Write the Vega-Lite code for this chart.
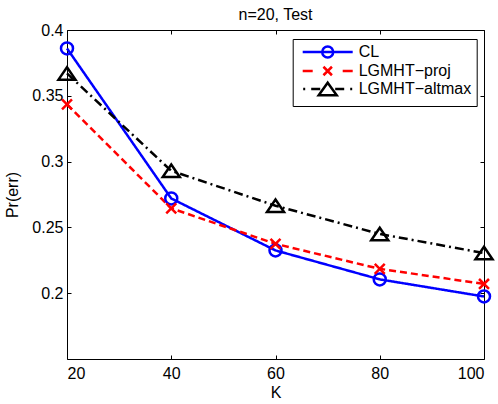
{
  "$schema": "https://vega.github.io/schema/vega-lite/v6.json",
  "width": 417,
  "height": 329,
  "autosize": "none",
  "padding": {"left": 67, "top": 30, "right": 14, "bottom": 45},
  "background": "white",
  "title": {"text": "n=20, Test", "fontSize": 16, "fontWeight": "normal", "font": "Liberation Sans", "color": "black", "offset": -1},
  "data": {"values": [
    {"K": 20, "err": 0.386, "method": "CL"},
    {"K": 40, "err": 0.272, "method": "CL"},
    {"K": 60, "err": 0.2325, "method": "CL"},
    {"K": 80, "err": 0.2105, "method": "CL"},
    {"K": 100, "err": 0.1975, "method": "CL"},
    {"K": 20, "err": 0.3435, "method": "LGMHT−proj"},
    {"K": 40, "err": 0.2645, "method": "LGMHT−proj"},
    {"K": 60, "err": 0.2375, "method": "LGMHT−proj"},
    {"K": 80, "err": 0.2185, "method": "LGMHT−proj"},
    {"K": 100, "err": 0.207, "method": "LGMHT−proj"},
    {"K": 20, "err": 0.367, "method": "LGMHT−altmax"},
    {"K": 40, "err": 0.293, "method": "LGMHT−altmax"},
    {"K": 60, "err": 0.2665, "method": "LGMHT−altmax"},
    {"K": 80, "err": 0.245, "method": "LGMHT−altmax"},
    {"K": 100, "err": 0.2305, "method": "LGMHT−altmax"}
  ]},
  "config": {
    "view": {"stroke": "black", "strokeWidth": 1},
    "axis": {"grid": false, "domainColor": "black", "tickColor": "black", "labelColor": "black", "titleColor": "black", "labelFont": "Liberation Sans", "titleFont": "Liberation Sans", "labelFontSize": 16, "titleFontSize": 16, "titleFontWeight": "normal", "tickWidth": 1},
    "legend": {"symbolOpacity": 1, "symbolStrokeWidth": 2.5, "symbolSize": 100, "labelFont": "Liberation Sans", "labelFontSize": 16, "labelColor": "black", "strokeColor": "black", "fillColor": "white", "padding": 5, "rowPadding": -5}
  },
  "layer": [
    {
      "mark": {"type": "line", "strokeWidth": 2.5, "strokeCap": "butt", "clip": false},
      "encoding": {
        "x": {"field": "K", "type": "quantitative", "scale": {"domain": [20, 100], "nice": false, "zero": false}, "axis": {"values": [20, 40, 60, 80, 100], "title": "K", "tickSize": -4, "labelPadding": 10, "titlePadding": 3, "domain": false}},
        "y": {"field": "err", "type": "quantitative", "scale": {"domain": [0.15, 0.4], "nice": false, "zero": false}, "axis": {"values": [0.2, 0.25, 0.3, 0.35, 0.4], "format": ".2~f", "title": "Pr(err)", "tickSize": -4, "labelPadding": 8, "titlePadding": 11, "domain": false}},
        "color": {"field": "method", "type": "nominal", "scale": {"domain": ["CL", "LGMHT−proj", "LGMHT−altmax"], "range": ["#0000ff", "#ff0000", "#000000"]}, "legend": null},
        "strokeDash": {"field": "method", "type": "nominal", "scale": {"domain": ["CL", "LGMHT−proj", "LGMHT−altmax"], "range": [[1, 0], [7, 4], [9, 4, 2, 4]]}, "legend": null}
      }
    },
    {
      "mark": {"type": "point", "filled": false, "size": 144, "strokeWidth": 2.5, "opacity": 1, "clip": false},
      "encoding": {
        "x": {"field": "K", "type": "quantitative", "axis": {"orient": "top", "values": [20, 40, 60, 80, 100], "labels": false, "title": null, "tickSize": -4, "domain": false}},
        "y": {"field": "err", "type": "quantitative", "axis": {"orient": "right", "values": [0.2, 0.25, 0.3, 0.35, 0.4], "labels": false, "title": null, "tickSize": -4, "domain": false}},
        "color": {"field": "method", "type": "nominal", "scale": {"domain": ["CL", "LGMHT−proj", "LGMHT−altmax"], "range": ["#0000ff", "#ff0000", "#000000"]}, "legend": null},
        "shape": {"field": "method", "type": "nominal", "scale": {"domain": ["CL", "LGMHT−proj", "LGMHT−altmax"], "range": ["M1,0A1,1,0,1,1,-1,0A1,1,0,1,1,1,0Z", "M-0.83,-0.83L0.83,0.83M-0.83,0.83L0.83,-0.83", "M0,-1.04L1.42,1.04L-1.42,1.04Z"]}, "legend": null}
      }
    },
    {
      "mark": {"type": "point", "filled": false, "size": 100, "strokeWidth": 2.5, "opacity": 0},
      "encoding": {
        "x": {"field": "K", "type": "quantitative", "axis": null},
        "y": {"field": "err", "type": "quantitative", "axis": null},
        "color": {"field": "method", "type": "nominal", "scale": {"domain": ["CL", "LGMHT−proj", "LGMHT−altmax"], "range": ["#0000ff", "#ff0000", "#000000"]}, "legend": {"title": null, "orient": "none", "legendX": 225.7, "legendY": 9, "symbolOffset": 22, "labelOffset": 23}},
        "shape": {"field": "method", "type": "nominal", "scale": {"domain": ["CL", "LGMHT−proj", "LGMHT−altmax"], "range": ["M-5,0H5M1.1,0A1.1,1.1,0,1,1,-1.1,0A1.1,1.1,0,1,1,1.1,0Z", "M-5,0H-3M3,0H5M-0.85,-0.85L0.85,0.85M-0.85,0.85L0.85,-0.85", "M-4.9,0H-4.5M-3.3,0H-1.5M1.5,0H3.3M4.5,0H4.9M0,-1.25L1.8,1.25L-1.8,1.25Z"]}, "legend": {"title": null, "orient": "none", "legendX": 225.7, "legendY": 9, "symbolOffset": 22, "labelOffset": 23}}
      }
    }
  ],
  "resolve": {"scale": {"shape": "independent", "color": "independent"}, "axis": {"x": "independent", "y": "independent"}}
}
